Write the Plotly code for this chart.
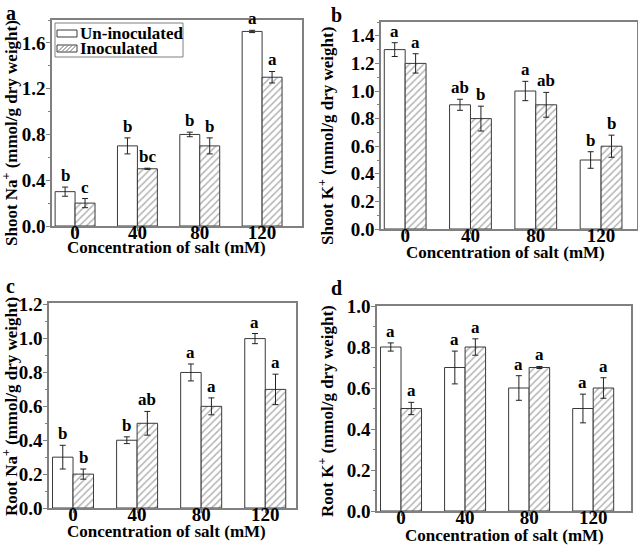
import plotly.graph_objects as go
from plotly.subplots import make_subplots

# categories (salt concentration, mM)
salt = ["0", "40", "80", "120"]
xpos = [0, 1, 2, 3]

# panel a: shoot Na+
shoot_na_un = [0.30, 0.70, 0.80, 1.70]
shoot_na_un_err = [0.04, 0.07, 0.02, 0.01]
shoot_na_in = [0.20, 0.50, 0.70, 1.30]
shoot_na_in_err = [0.04, 0.005, 0.07, 0.05]
shoot_na_un_lab = ["b", "b", "b", "a"]
shoot_na_in_lab = ["c", "bc", "b", "a"]

# panel b: shoot K+
shoot_k_un = [1.30, 0.90, 1.00, 0.50]
shoot_k_un_err = [0.05, 0.04, 0.07, 0.06]
shoot_k_in = [1.20, 0.80, 0.90, 0.60]
shoot_k_in_err = [0.07, 0.09, 0.09, 0.08]
shoot_k_un_lab = ["a", "ab", "a", "b"]
shoot_k_in_lab = ["a", "b", "ab", "b"]

# panel c: root Na+
root_na_un = [0.30, 0.40, 0.80, 1.00]
root_na_un_err = [0.07, 0.02, 0.05, 0.03]
root_na_in = [0.20, 0.50, 0.60, 0.70]
root_na_in_err = [0.03, 0.07, 0.05, 0.09]
root_na_un_lab = ["b", "b", "a", "a"]
root_na_in_lab = ["b", "ab", "a", "a"]

# panel d: root K+
root_k_un = [0.80, 0.70, 0.60, 0.50]
root_k_un_err = [0.02, 0.08, 0.06, 0.07]
root_k_in = [0.50, 0.80, 0.70, 0.60]
root_k_in_err = [0.03, 0.04, 0.005, 0.05]
root_k_un_lab = ["a", "a", "a", "a"]
root_k_in_lab = ["a", "a", "a", "a"]

W, H = 638, 546
FONT = "Liberation Serif"
FRAME = "#808080"
BARLINE = "#3a3a3a"
HATCH = "#6a6a6a"


def px(x):
    return x / W


def py(y):
    return 1 - y / H


panels = [
    dict(r=1, c=1, tag="a", un=shoot_na_un, ue=shoot_na_un_err, inn=shoot_na_in, ie=shoot_na_in_err,
         ul=shoot_na_un_lab, il=shoot_na_in_lab, ytitle="Shoot Na<sup>+</sup> (mmol/g dry weight)",
         yr=[0, 1.8], dt=0.4, xr=[-0.37, 3.64], dom=([52, 302], [20, 226]),
         ypos=(10, 133), xpos=(166, 248), letter=(4, 0)),
    dict(r=1, c=2, tag="b", un=shoot_k_un, ue=shoot_k_un_err, inn=shoot_k_in, ie=shoot_k_in_err,
         ul=shoot_k_un_lab, il=shoot_k_in_lab, ytitle="Shoot K<sup>+</sup> (mmol/g dry weight)",
         yr=[0, 1.5], dt=0.2, xr=[-0.37, 3.55], dom=([381, 637], [22, 229]),
         ypos=(326, 136), xpos=(505, 252), letter=(329, 2)),
    dict(r=2, c=1, tag="c", un=root_na_un, ue=root_na_un_err, inn=root_na_in, ie=root_na_in_err,
         ul=root_na_un_lab, il=root_na_in_lab, ytitle="Root Na<sup>+</sup> (mmol/g dry weight)",
         yr=[0, 1.21], dt=0.2, xr=[-0.375, 3.48], dom=([49, 296], [303, 508]),
         ypos=(10, 407), xpos=(166, 531), letter=(4, 273)),
    dict(r=2, c=2, tag="d", un=root_k_un, ue=root_k_un_err, inn=root_k_in, ie=root_k_in_err,
         ul=root_k_un_lab, il=root_k_in_lab, ytitle="Root K<sup>+</sup> (mmol/g dry weight)",
         yr=[0, 1.0], dt=0.2, xr=[-0.375, 3.59], dom=([377, 631], [306, 511]),
         ypos=(326, 411), xpos=(504, 535), letter=(329, 275)),
]

fig = make_subplots(rows=2, cols=2)

annos = []
shapes = []
for i, p in enumerate(panels):
    fig.add_trace(go.Bar(
        x=xpos, y=p["un"], name="Un-inoculated", showlegend=False,
        marker=dict(color="white", line=dict(color=BARLINE, width=1)),
        error_y=dict(type="data", array=p["ue"], color="#222", thickness=1, width=3),
    ), row=p["r"], col=p["c"])
    fig.add_trace(go.Bar(
        x=xpos, y=p["inn"], name="Inoculated", showlegend=False,
        marker=dict(color="white", line=dict(color=BARLINE, width=1),
                    pattern=dict(shape="/", fgcolor=HATCH, bgcolor="white", size=5, solidity=0.3)),
        error_y=dict(type="data", array=p["ie"], color="#222", thickness=1, width=3),
    ), row=p["r"], col=p["c"])

    n = "" if i == 0 else str(i + 1)
    xa, ya = "x" + n, "y" + n
    for k in range(4):
        for off, val, err, lab in ((-0.16, p["un"][k], p["ue"][k], p["ul"][k]),
                                   (0.16, p["inn"][k], p["ie"][k], p["il"][k])):
            annos.append(dict(x=xpos[k] + off, y=val + err, xref=xa, yref=ya, text="<b>%s</b>" % lab,
                              showarrow=False, yanchor="bottom", yshift=0,
                              font=dict(family=FONT, size=17, color="black")))

    # axis titles
    annos.append(dict(x=px(p["ypos"][0]), y=py(p["ypos"][1]), xref="paper", yref="paper",
                      text="<b>%s</b>" % p["ytitle"], textangle=-90, showarrow=False,
                      xanchor="center", yanchor="middle",
                      font=dict(family=FONT, size=17, color="black")))
    annos.append(dict(x=px(p["xpos"][0]), y=py(p["xpos"][1]), xref="paper", yref="paper",
                      text="<b>Concentration of salt (mM)</b>", showarrow=False,
                      xanchor="center", yanchor="middle",
                      font=dict(family=FONT, size=17, color="black")))
    # panel letter
    annos.append(dict(x=px(p["letter"][0]), y=py(p["letter"][1]), xref="paper", yref="paper",
                      text="<b>%s</b>" % p["tag"], showarrow=False, xanchor="left", yanchor="top",
                      font=dict(family=FONT, size=20, color="black")))

    dx, dy = p["dom"]
    fig.update_xaxes(domain=[px(dx[0]), px(dx[1])], range=p["xr"], tickvals=xpos, ticktext=salt,
                     showline=True, mirror=True, linecolor=FRAME, linewidth=1.5,
                     ticks="outside", ticklen=3, tickcolor=FRAME, ticklabelstandoff=-15,
                     tickfont=dict(family=FONT, size=19, color="black", weight="bold"),
                     showgrid=False, zeroline=False, automargin=False, row=p["r"], col=p["c"])
    fig.update_yaxes(domain=[py(dy[1]), py(dy[0])], range=p["yr"], dtick=p["dt"], tickformat=".1f",
                     showline=True, mirror=True, linecolor=FRAME, linewidth=1.5,
                     ticks="outside", ticklen=4, tickcolor=FRAME, ticklabelstandoff=-3,
                     minor=dict(ticks="outside", ticklen=2, tickcolor=FRAME, dtick=p["dt"] / 2),
                     tickfont=dict(family=FONT, size=19, color="black", weight="bold"),
                     showgrid=False, zeroline=False, automargin=False, row=p["r"], col=p["c"])

# legend in panel a, drawn by hand to keep it compact
shapes.append(dict(type="rect", xref="paper", yref="paper", x0=px(55), x1=px(183), y0=py(57), y1=py(23),
                   line=dict(color=FRAME, width=1), fillcolor="white", layer="above"))
shapes.append(dict(type="rect", xref="paper", yref="paper", x0=px(57), x1=px(77), y0=py(37), y1=py(30),
                   line=dict(color=BARLINE, width=1), fillcolor="white", layer="above"))
shapes.append(dict(type="rect", xref="paper", yref="paper", x0=px(57), x1=px(77), y0=py(52), y1=py(45),
                   line=dict(color=BARLINE, width=1), fillcolor="white", layer="above"))
for hx in (58, 62, 66, 70):
    shapes.append(dict(type="line", xref="paper", yref="paper", x0=px(hx), x1=px(hx + 6),
                       y0=py(51.5), y1=py(45.5), line=dict(color=HATCH, width=1), layer="above"))
annos.append(dict(x=px(78), y=py(33), xref="paper", yref="paper", text="<b>Un-inoculated</b>",
                  showarrow=False, xanchor="left", yanchor="middle",
                  font=dict(family=FONT, size=17, color="black")))
annos.append(dict(x=px(78), y=py(48), xref="paper", yref="paper", text="<b>Inoculated</b>",
                  showarrow=False, xanchor="left", yanchor="middle",
                  font=dict(family=FONT, size=17, color="black")))

fig.update_layout(
    width=W, height=H, margin=dict(l=0, r=0, t=0, b=0, autoexpand=False),
    paper_bgcolor="white", plot_bgcolor="white",
    barmode="group", bargap=0.36, bargroupgap=0,
    annotations=annos, shapes=shapes, showlegend=False,
)

# page body margin off so the figure sits at the window's corner
fig.write_html("out.html", config={"displayModeBar": False},
               post_script="document.body.style.margin='0';")
